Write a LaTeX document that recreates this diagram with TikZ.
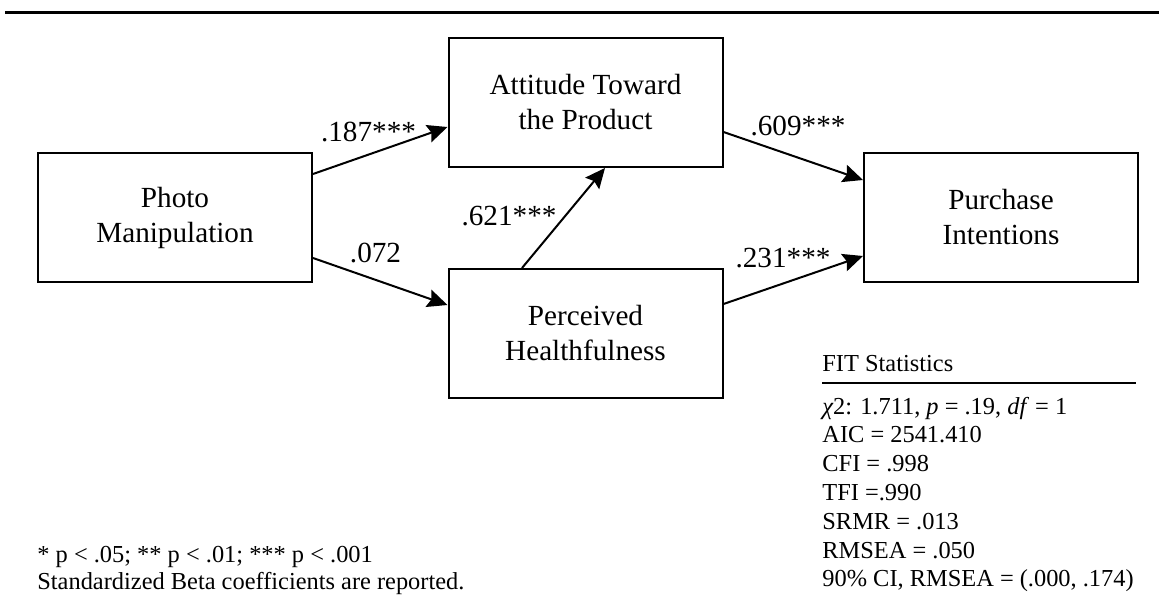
\documentclass[tikz,border=0pt]{standalone}
\usepackage{fontspec}
\setmainfont{Liberation Serif}
\usetikzlibrary{arrows.meta,calc}
\begin{document}
\begin{tikzpicture}[x=0.5pt,y=-0.5pt,
  box/.style={draw, line width=1pt, minimum width=137pt, minimum height=64.5pt, inner sep=0pt, align=center, font=\fontsize{14.6}{17.5}\selectfont},
  coef/.style={inner sep=0pt, anchor=base, font=\fontsize{14.6}{17.5}\selectfont},
  smalltxt/.style={inner sep=0pt, anchor=base west, font=\fontsize{12.2}{14.4}\selectfont},
  arr/.style={line width=1pt, -{Stealth[length=10pt,width=9pt,inset=1.5pt]}}]
\useasboundingbox (0,0) rectangle (1159,610);
\fill[white] (0,0) rectangle (1159,610);
% top rule
\draw[line width=1.3pt] (5,12.7) -- (1159,12.7);
% boxes
\node[box] (photo) at (175,217.5) {Photo\\Manipulation};
\node[box] (att) at (585.5,102.5) {Attitude Toward\\the Product};
\node[box] (perc) at (585.5,333.5) {Perceived\\Healthfulness};
\node[box] (purch) at (1001,217.5) {Purchase\\Intentions};
% arrows
\draw[arr] ($(photo.east)+(0,-43.5)$) -- ($(att.west)+(0,24.5)$);
\draw[arr] ($(photo.east)+(0,40.5)$) -- ($(perc.west)+(0,-28.5)$);
\draw[arr] ($(att.east)+(0,29.5)$) -- ($(purch.west)+(0,-37.5)$);
\draw[arr] ($(perc.east)+(0,-29.5)$) -- ($(purch.west)+(0,38.5)$);
\draw[arr] ($(perc.north)+(-63.5,0)$) -- ($(att.south)+(19.5,0)$);
% coefficients
\node[coef] (c187) at (368.5,141.7) {.187***};
\node[coef] (c072) at (375.5,262.7) {.072};
\node[coef] (c621) at (509,225) {.621***};
\node[coef] (c609) at (798,135) {.609***};
\node[coef] (c231) at (783,267) {.231***};
% fit statistics
\node[smalltxt] (fithead) at (822,371.7) {FIT Statistics};
\coordinate (rulea) at (822,383);
\coordinate (ruleb) at (1136,383);
\draw[line width=1pt] (rulea) -- (ruleb);
\node[smalltxt] (fit1) at (822,414) {{\itshape χ}2: 1.711, \textit{p} = .19, \textit{df} = 1};
\node[smalltxt] (fit2) at (822,442.8) {AIC = 2541.410};
\node[smalltxt] (fit3) at (822,471.6) {CFI = .998};
\node[smalltxt] (fit4) at (822,500.4) {TFI =.990};
\node[smalltxt] (fit5) at (822,529.2) {SRMR = .013};
\node[smalltxt] (fit6) at (822,558) {RMSEA = .050};
\node[smalltxt] (fit7) at (822,586.8) {90\% CI, RMSEA = (.000, .174)};
% footnote
\node[smalltxt] (note1) at (37,562.5) {* p < .05; ** p < .01; *** p < .001};
\node[smalltxt] (note2) at (37,589) {Standardized Beta coefficients are reported.};
\end{tikzpicture}
\end{document}
